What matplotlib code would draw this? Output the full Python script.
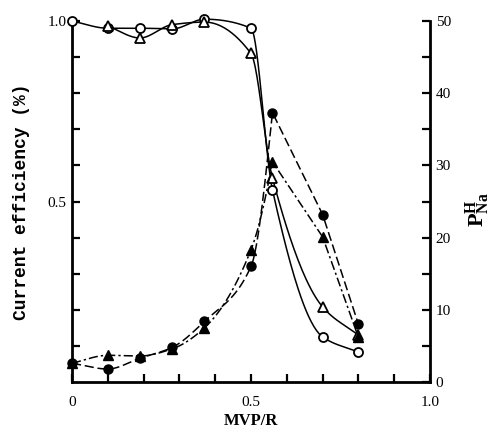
import numpy as np
import matplotlib
matplotlib.use("Agg")
import matplotlib.pyplot as plt

# ---- data ----
mvp = [0.0, 0.10, 0.19, 0.28, 0.37, 0.50, 0.56, 0.70, 0.80]
mvp_tri = [0.10, 0.19, 0.28, 0.37, 0.50, 0.56, 0.70, 0.80]
eff_open_circle = [1.0, 0.98, 0.98, 0.978, 1.005, 0.98, 0.532, 0.125, 0.083]
eff_open_tri = [0.986, 0.953, 0.99, 0.997, 0.91, 0.565, 0.208, 0.13]
p_filled_circle = [2.6, 1.8, 3.3, 4.8, 8.4, 16.0, 37.3, 23.2, 8.0]
p_filled_tri = [2.6, 3.7, 3.6, 4.6, 7.5, 18.3, 30.5, 20.1, 6.2]

xticks_major = [0.0, 0.5, 1.0]
left_ticks = [0.1, 0.2, 0.3, 0.4, 0.5, 0.6, 0.7, 0.8, 0.9, 1.0]
left_labels = ["", "", "", "", "0.5", "", "", "", "", "1.0"]
right_ticks = [0, 5, 10, 15, 20, 25, 30, 35, 40, 45, 50]
right_labels = ["0", "", "10", "", "20", "", "30", "", "40", "", "50"]


def smooth(x, y, peaked=False, n=40):
    """Hermite curve through the data points (pchip tangents);
    with peaked=True the maximum becomes a sharp corner and the
    segments after it are straight."""
    x = np.asarray(x, float)
    y = np.asarray(y, float)
    h = np.diff(x)
    d = np.diff(y) / h
    m = np.zeros_like(y)
    for k in range(1, len(x) - 1):
        if d[k - 1] * d[k] > 0:
            w1 = 2 * h[k] + h[k - 1]
            w2 = h[k] + 2 * h[k - 1]
            m[k] = (w1 + w2) / (w1 / d[k - 1] + w2 / d[k])
    m[0] = d[0]
    m[-1] = d[-1]
    ms = m[:-1].copy()
    me = m[1:].copy()
    if peaked:
        p = int(np.argmax(y))
        me[p - 1] = 1.3 * d[p - 1]
        for k in range(p, len(x) - 1):
            ms[k] = d[k]
            me[k] = d[k]
        if p - 2 >= 0:
            me[p - 2] = m[p - 1]
    xs, ys = [], []
    for k in range(len(x) - 1):
        t = np.linspace(0, 1, n)
        hk = h[k]
        h00 = 2 * t**3 - 3 * t**2 + 1
        h10 = t**3 - 2 * t**2 + t
        h01 = -2 * t**3 + 3 * t**2
        h11 = t**3 - t**2
        xs.append(x[k] + t * hk)
        ys.append(h00 * y[k] + h10 * hk * ms[k] + h01 * y[k + 1] + h11 * hk * me[k])
    return np.concatenate(xs), np.concatenate(ys)


plt.rcParams["mathtext.fontset"] = "custom"
plt.rcParams["mathtext.bf"] = "Liberation Serif:bold"
plt.rcParams["mathtext.rm"] = "Liberation Serif"

fig = plt.figure(figsize=(5.03, 4.34), dpi=100)
ax = fig.add_axes([0.1431, 0.1198, 0.7118, 0.8318])
ax2 = ax.twinx()

ax.set_xlim(0, 1.0)
ax.set_ylim(0, 1.0)
ax2.set_ylim(0, 50)

lw = 1.1
# current efficiency (left axis)
sx, sy = smooth(mvp, eff_open_circle)
ax.plot(sx, sy, color="black", lw=lw, clip_on=False)
ax.plot(mvp, eff_open_circle, "o", ms=6.5, mfc="white", mec="black", mew=1.3, clip_on=False, zorder=5)
sx, sy = smooth(mvp_tri, eff_open_tri)
ax.plot(sx, sy, color="black", lw=lw, clip_on=False)
ax.plot(mvp_tri, eff_open_tri, "^", ms=7, mfc="white", mec="black", mew=1.3, clip_on=False, zorder=5)

# P^H_Na (right axis)
sx, sy = smooth(mvp, p_filled_circle, peaked=True)
ax2.plot(sx, sy, color="black", lw=lw, ls=(0, (6, 2.5)), clip_on=False)
ax2.plot(mvp, p_filled_circle, "o", ms=6.5, mfc="black", mec="black", clip_on=False, zorder=5)
sx, sy = smooth(mvp, p_filled_tri, peaked=True)
ax2.plot(sx, sy, color="black", lw=lw, ls=(0, (6, 2, 1.5, 2)), clip_on=False)
ax2.plot(mvp, p_filled_tri, "^", ms=7, mfc="black", mec="black", clip_on=False, zorder=5)

for a in (ax, ax2):
    a.spines["top"].set_visible(False)
    for s in a.spines.values():
        s.set_linewidth(2.0)
ax.spines["right"].set_visible(False)
ax2.spines["left"].set_visible(False)
ax2.spines["bottom"].set_visible(False)

serif = "Liberation Serif"
ax.set_xticks(xticks_major)
ax.set_xticklabels(["0", "0.5", "1.0"], fontfamily=serif, fontsize=11)
ax.set_xticks([0.1, 0.2, 0.3, 0.4, 0.6, 0.7, 0.8, 0.9], minor=True)
ax.tick_params(axis="x", which="both", direction="in", length=6, width=1.6, pad=10)

ax.set_yticks(left_ticks)
ax.set_yticklabels(left_labels, fontfamily=serif, fontsize=11)
ax.tick_params(axis="y", direction="in", length=6, width=1.6, pad=4)

ax2.set_yticks(right_ticks)
ax2.set_yticklabels(right_labels, fontfamily=serif, fontsize=11)
ax2.tick_params(axis="y", direction="in", length=6, width=1.6, pad=4)

ax.set_xlabel("MVP/R", fontfamily=serif, fontweight="bold", fontsize=12, labelpad=3)
ax.text(-0.142, 0.50, "Current efficiency (%)", transform=ax.transAxes, rotation=90,
        ha="center", va="center", fontfamily="Liberation Mono", fontweight="bold", fontsize=13)
ax2.text(1.134, 0.476, r"$\mathbf{P^{H}_{Na}}$", transform=ax.transAxes, rotation=90,
         ha="center", va="center", fontsize=16)

fig.savefig("out.png", dpi=100)
